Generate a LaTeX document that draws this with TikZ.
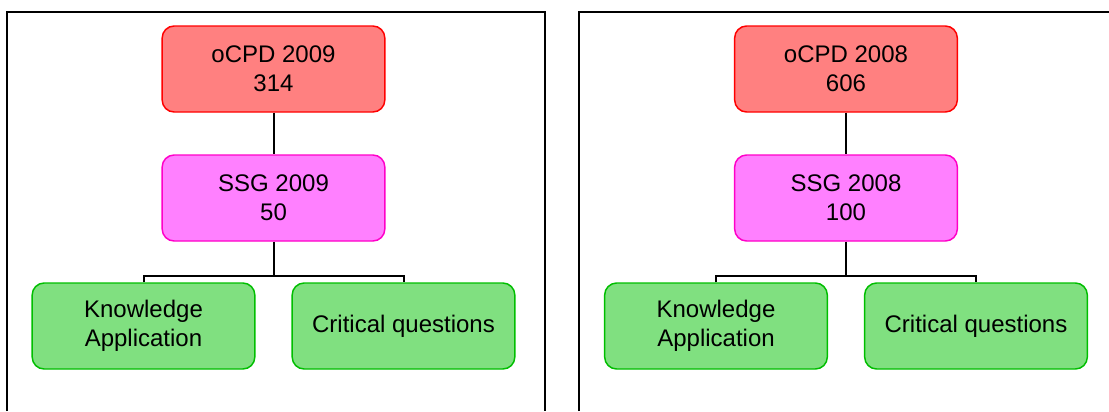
\documentclass[tikz,border=0pt]{standalone}
\usepackage{fontspec}
\setmainfont{Liberation Sans}
\begin{document}
\begin{tikzpicture}[x=0.75pt,y=0.75pt,yscale=-1,xscale=1,
		box/.style={rectangle, rounded corners=9pt, line width=1.1pt, minimum width=167pt, minimum height=64.5pt, inner sep=0pt, align=center, font=\fontsize{18}{21.6}\selectfont},
		topbox/.style={box, draw={rgb, 255:red, 255; green, 0; blue, 0 }, fill={rgb, 255:red, 255; green, 128; blue, 128 }},
		groupbox/.style={box, draw={rgb, 255:red, 255; green, 0; blue, 200 }, fill={rgb, 255:red, 255; green, 128; blue, 255 }},
		leafbox/.style={box, draw={rgb, 255:red, 0; green, 190; blue, 0 }, fill={rgb, 255:red, 128; green, 224; blue, 128 }},
		link/.style={line width=1.5pt, color=black},
		frame/.style={line width=1.5pt, color=black}]
	\useasboundingbox (0,0) rectangle (1109,411);
	
	%Frames
	\draw [frame] (7,411) -- (7,12) -- (545,12) -- (545,411) ;
	\draw [frame] (579,411) -- (579,12) -- (1109,12) ;
	
	% Left tree (2009)
	\node [topbox] (oA) at (273.5,69) {oCPD 2009\\314};
	\node [groupbox] (sA) at (273.5,198) {SSG 2009\\50};
	\node [leafbox] (kA) at (143.5,326) {Knowledge\\Application};
	\node [leafbox] (cA) at (403.5,326) {Critical questions};
	\coordinate (jA) at (273.5,276);
	
	% Right tree (2008)
	\node [topbox] (oB) at (846,69) {oCPD 2008\\606};
	\node [groupbox] (sB) at (846,198) {SSG 2008\\100};
	\node [leafbox] (kB) at (716,326) {Knowledge\\Application};
	\node [leafbox] (cB) at (976,326) {Critical questions};
	\coordinate (jB) at (846,276);
	
	%Connectors
	\draw [link] (oA) -- (sA) ;
	\draw [link] (sA) -- (jA) ;
	\draw [link] (kA.north) |- (jA) -| (cA.north) ;
	\draw [link] (oB) -- (sB) ;
	\draw [link] (sB) -- (jB) ;
	\draw [link] (kB.north) |- (jB) -| (cB.north) ;
	
\end{tikzpicture}
\end{document}
